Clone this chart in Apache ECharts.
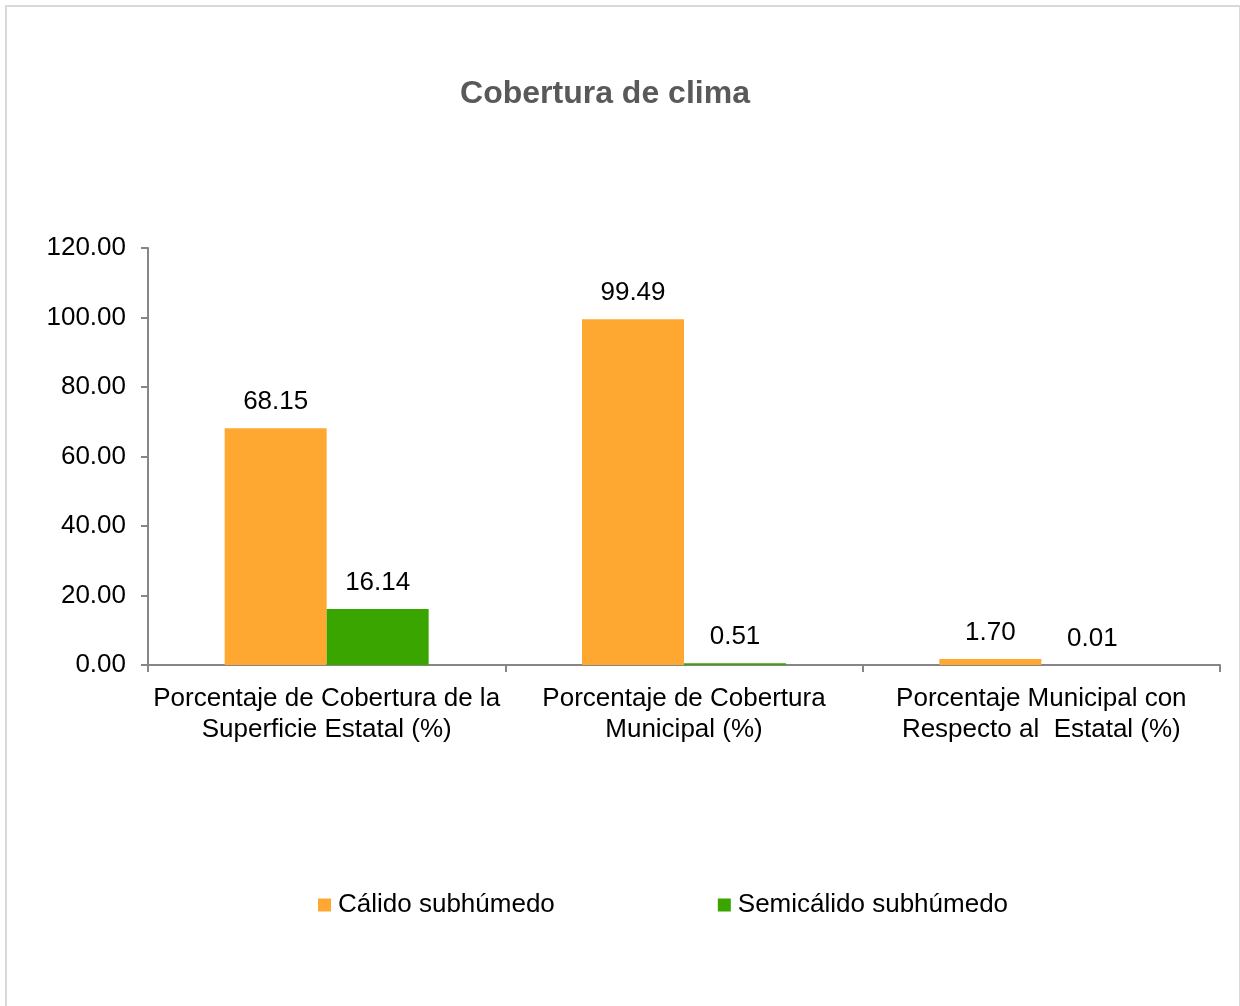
<!DOCTYPE html>
<html lang="es">
<head>
    <meta charset="UTF-8">
    <title>Cobertura de clima</title>
    <script src="https://cdn.jsdelivr.net/npm/echarts@6/dist/echarts.min.js"></script>
    <style>
        body { margin: 0; background: #fff; }
        #marco { position: absolute; left: 5px; top: 5px; width: 1232px; height: 1010px; border: 2px solid #d9d9d9; pointer-events: none; }
        #myCharts { position: absolute; left: 0; top: 0; width: 1240px; height: 1006px; }
    </style>
</head>
<body>
<div id="myCharts"></div>
<div id="marco"></div>

<script>
    // datos
    const categorias = [
        'Porcentaje de Cobertura de la\nSuperficie Estatal (%)',
        'Porcentaje de Cobertura\nMunicipal (%)',
        'Porcentaje Municipal con\nRespecto al  Estatal (%)'
    ];
    const calido = [68.15, 99.49, 1.70];
    const semicalido = [16.14, 0.51, 0.01];
    const ticksY = [0, 20, 40, 60, 80, 100, 120];

    const fuente = 'Liberation Sans, Arial, sans-serif';
    const gris = '#868686';

    let etiqueta = {
        show: true,
        position: 'top',
        distance: 13,
        color: '#000',
        fontSize: 26,
        fontFamily: fuente,
        formatter: p => p.value.toFixed(2)
    };

    let myChart = echarts.init(document.getElementById('myCharts'));
    myChart.setOption({
        backgroundColor: '#fff',
        animation: false,
        title: {
            text: 'Cobertura de clima',
            left: 600,
            top: 73,
            textAlign: 'center',
            textStyle: { color: '#595959', fontSize: 32, fontWeight: 'bold', fontFamily: fuente }
        },
        legend: {
            left: 318,
            top: 892,
            padding: 0,
            itemWidth: 13,
            itemHeight: 13,
            itemGap: 163,
            icon: 'rect',
            textStyle: { color: '#000', fontSize: 26, fontFamily: fuente, padding: [0, 0, 0, 2] },
            data: ['Cálido subhúmedo', 'Semicálido subhúmedo']
        },
        grid: { left: 148, right: 20, top: 248, bottom: 341, containLabel: false },
        xAxis: {
            type: 'category',
            data: categorias,
            axisLine: { lineStyle: { color: gris, width: 2 } },
            axisTick: { show: true, length: 7, lineStyle: { color: gris, width: 2 } },
            axisLabel: { interval: 0, margin: 18, color: '#000', fontSize: 26, lineHeight: 31, fontFamily: fuente }
        },
        yAxis: {
            type: 'value',
            min: ticksY[0],
            max: ticksY[ticksY.length - 1],
            interval: ticksY[1] - ticksY[0],
            splitLine: { show: false },
            axisLine: { show: true, lineStyle: { color: gris, width: 2 } },
            axisTick: { show: true, length: 7, lineStyle: { color: gris, width: 2 } },
            axisLabel: { margin: 22, color: '#000', fontSize: 26, fontFamily: fuente, formatter: v => v.toFixed(2) }
        },
        series: [
            {
                name: 'Cálido subhúmedo',
                type: 'bar',
                data: calido,
                barWidth: 102,
                barGap: '0%',
                itemStyle: { color: '#FFA831' },
                label: etiqueta
            },
            {
                name: 'Semicálido subhúmedo',
                type: 'bar',
                data: semicalido,
                barWidth: 102,
                barGap: '0%',
                itemStyle: { color: '#3BA500' },
                label: etiqueta
            }
        ]
    });
</script>

</body>
</html>
